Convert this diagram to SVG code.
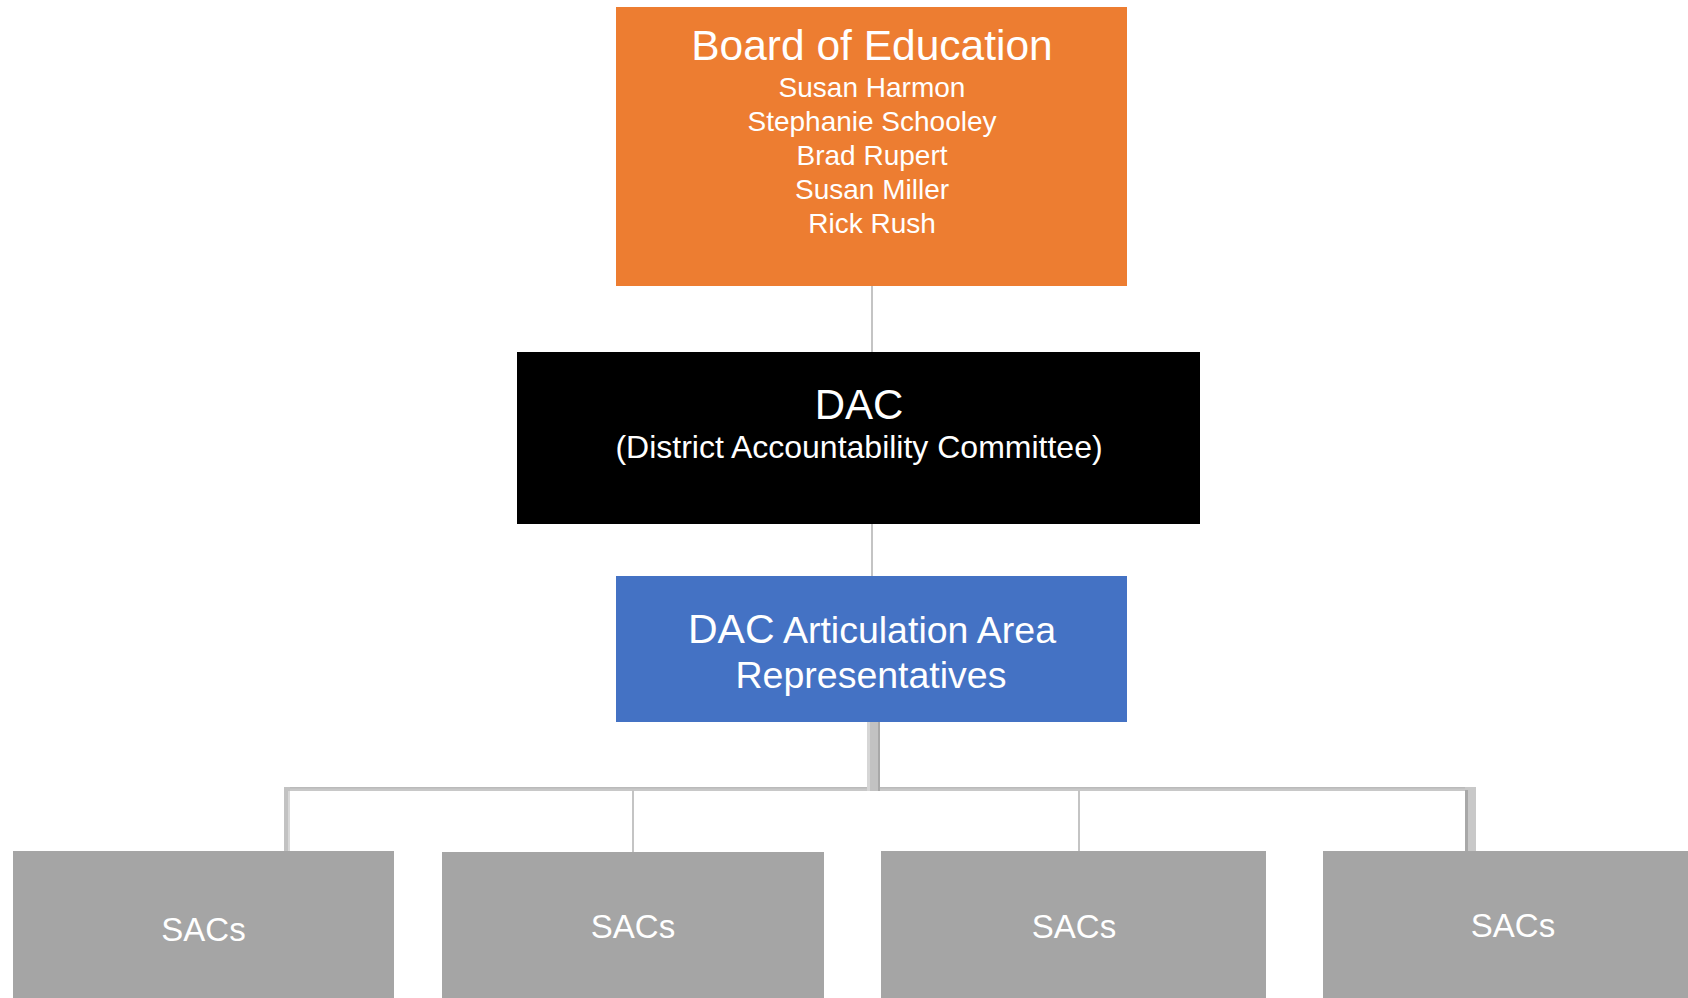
<svg xmlns="http://www.w3.org/2000/svg" width="1688" height="998" viewBox="0 0 1688 998">
<style>
.t{font-family:"Liberation Sans",Arial,sans-serif;fill:#ffffff;text-anchor:middle}
.thin{stroke:#c4c4c4;stroke-width:2;fill:none}
.sac{fill:#a5a5a5}
</style>
<rect x="0" y="0" width="1688" height="998" fill="#ffffff"/>
<g id="connectors">
  <line class="thin" x1="872" y1="286" x2="872" y2="352"/>
  <line class="thin" x1="872" y1="524" x2="872" y2="576"/>
  <rect x="284" y="787" width="1192" height="4" fill="#c8c8c8"/>
  <rect x="284" y="787" width="1192" height="1.5" fill="#bababa"/>
  <rect x="867" y="722" width="13" height="69" fill="#c2c2c2"/>
  <rect x="867" y="722" width="3" height="69" fill="#d6d6d6"/>
  <rect x="878" y="722" width="2" height="69" fill="#a8a8a8"/>
  <rect x="284" y="787" width="6" height="64" fill="#c2c2c2"/>
  <rect x="288" y="791" width="2" height="60" fill="#d8d8d8"/>
  <line class="thin" x1="633" y1="790" x2="633" y2="852"/>
  <line class="thin" x1="1079" y1="790" x2="1079" y2="851"/>
  <rect x="1465" y="787" width="11" height="68" fill="#c8c8c8"/>
  <rect x="1465" y="790" width="3" height="65" fill="#a8a8a8"/>
</g>
<g id="board">
  <rect x="616" y="7" width="511" height="279" fill="#ed7d31"/>
  <text class="t" x="872" y="60" font-size="42.5">Board of Education</text>
  <text class="t" x="872" y="97" font-size="28">Susan Harmon</text>
  <text class="t" x="872" y="131" font-size="28">Stephanie Schooley</text>
  <text class="t" x="872" y="165" font-size="28">Brad Rupert</text>
  <text class="t" x="872" y="199" font-size="28">Susan Miller</text>
  <text class="t" x="872" y="233" font-size="28">Rick Rush</text>
</g>
<g id="dac">
  <rect x="517" y="352" width="683" height="172" fill="#000000"/>
  <text class="t" x="859" y="419" font-size="42">DAC</text>
  <text class="t" x="859" y="458" font-size="32">(District Accountability Committee)</text>
</g>
<g id="reps">
  <rect x="616" y="576" width="511" height="146" fill="#4472c4"/>
  <text class="t" x="872" y="643"><tspan font-size="41">DAC</tspan><tspan font-size="37.5"> Articulation Area</tspan></text>
  <text class="t" x="871" y="688" font-size="37.5">Representatives</text>
</g>
<g id="sac1">
  <rect class="sac" x="13" y="851" width="381" height="147"/>
  <text class="t" x="203.5" y="941" font-size="33">SACs</text>
</g>
<g id="sac2">
  <rect class="sac" x="442" y="852" width="382" height="146"/>
  <text class="t" x="633" y="938" font-size="33">SACs</text>
</g>
<g id="sac3">
  <rect class="sac" x="881" y="851" width="385" height="147"/>
  <text class="t" x="1074" y="938" font-size="33">SACs</text>
</g>
<g id="sac4">
  <rect class="sac" x="1323" y="851" width="365" height="147"/>
  <text class="t" x="1513" y="937" font-size="33">SACs</text>
</g>
</svg>
